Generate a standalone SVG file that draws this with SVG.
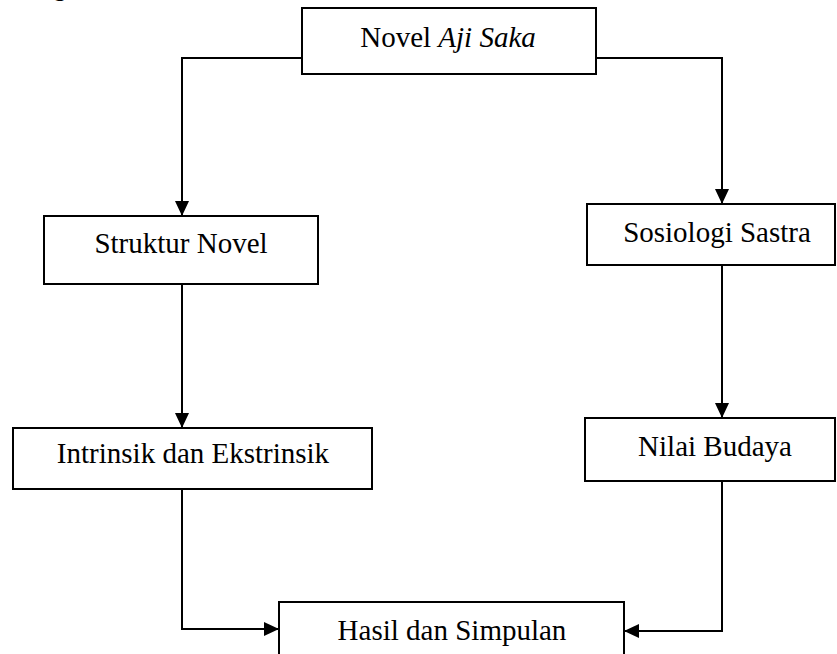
<svg xmlns="http://www.w3.org/2000/svg" width="837" height="654" viewBox="0 0 837 654">
<style>
.box{fill:#fff;stroke:#000;stroke-width:2}
.lbl{font-family:"Liberation Serif","Times New Roman",serif;font-size:29px;fill:#000;text-anchor:middle}
.con{fill:none;stroke:#000;stroke-width:2}
</style>
<defs>
<marker id="ah" markerUnits="userSpaceOnUse" markerWidth="16" markerHeight="14" refX="15" refY="7" orient="auto">
<path d="M0,0 L15,7 L0,14 Z" fill="#000"/>
</marker>
</defs>
<rect width="837" height="654" fill="#fff"/>
<text x="54" y="-4" font-family="Liberation Serif, serif" font-weight="bold" font-size="24" fill="#000">g</text>
<g id="connectors">
<polyline class="con" points="302,58 182,58 182,216" marker-end="url(#ah)"/>
<polyline class="con" points="596,58 722,58 722,204" marker-end="url(#ah)"/>
<polyline class="con" points="182,284 182,428" marker-end="url(#ah)"/>
<polyline class="con" points="722,265 722,418" marker-end="url(#ah)"/>
<polyline class="con" points="182,489 182,629 279,629" marker-end="url(#ah)"/>
<polyline class="con" points="722,481 722,631 624,631" marker-end="url(#ah)"/>
</g>
<g id="novel">
<rect class="box" x="302" y="8" width="294" height="66"/>
<text class="lbl" x="448" y="47">Novel <tspan font-style="italic">Aji Saka</tspan></text>
</g>
<g id="struktur">
<rect class="box" x="44" y="216" width="274" height="68"/>
<text class="lbl" x="181" y="253">Struktur Novel</text>
</g>
<g id="sosiologi">
<rect class="box" x="587" y="204" width="248" height="61"/>
<text class="lbl" x="717" y="242">Sosiologi Sastra</text>
</g>
<g id="intrinsik">
<rect class="box" x="13" y="428" width="359" height="61"/>
<text class="lbl" x="193" y="463">Intrinsik dan Ekstrinsik</text>
</g>
<g id="nilai">
<rect class="box" x="585" y="418" width="250" height="63"/>
<text class="lbl" x="715" y="456">Nilai Budaya</text>
</g>
<g id="hasil">
<rect class="box" x="279" y="602" width="345" height="60"/>
<text class="lbl" x="452" y="640">Hasil dan Simpulan</text>
</g>
</svg>
